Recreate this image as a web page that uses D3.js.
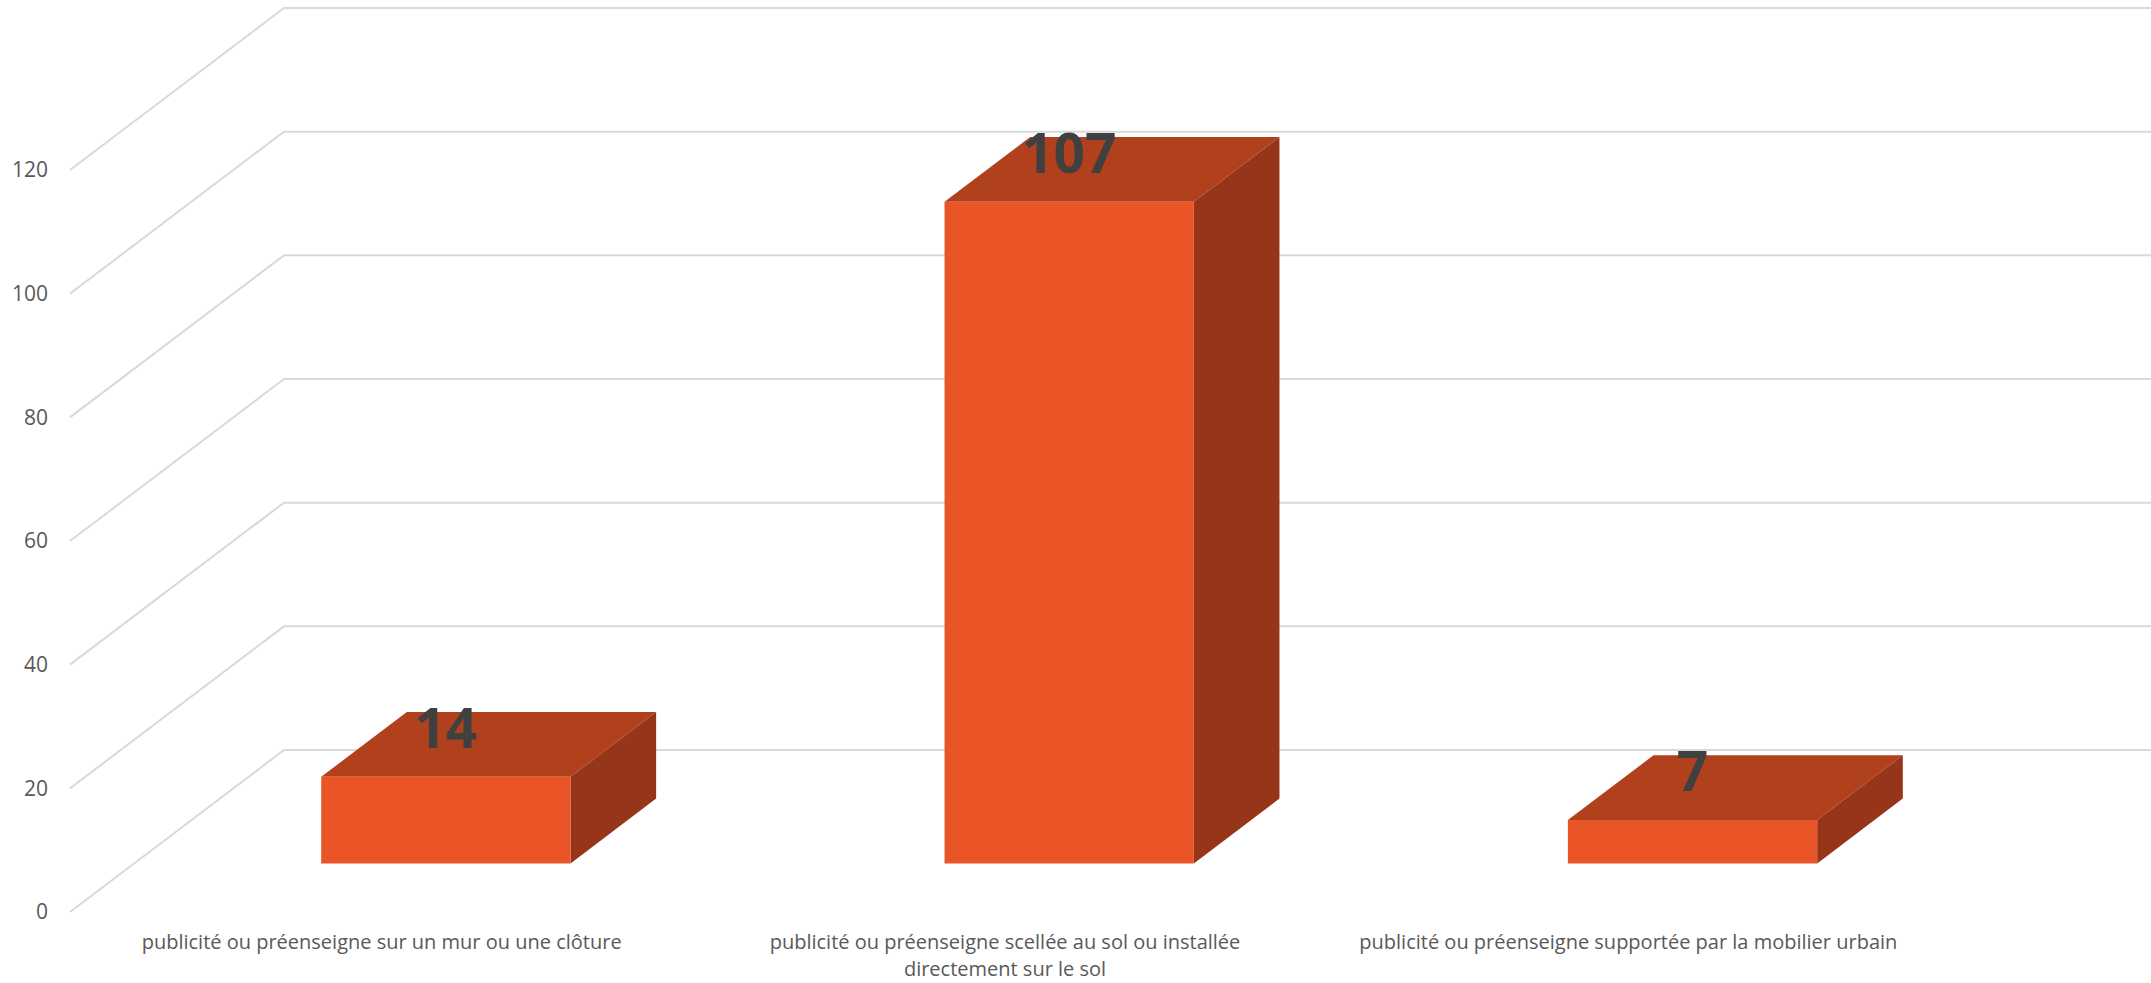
<!DOCTYPE html>
<html>
<head>
<meta charset="utf-8">
<script src="https://cdn.jsdelivr.net/npm/d3@7"></script>
<style>
  html, body { margin: 0; padding: 0; background: #fff; overflow: hidden; }
</style>
</head>
<body>
<svg></svg>
<script>
// Data
const categories = [
    "publicité ou préenseigne sur un mur ou une clôture",
    "publicité ou préenseigne scellée au sol ou installée directement sur le sol",
    "publicité ou préenseigne supportée par la mobilier urbain"
]
const values = [14, 107, 7]
const yTicks = [0, 20, 40, 60, 80, 100, 120]

// Svg size
const width = 2151
const height = 983

const svg = d3.select("svg")
    .attr("width", width)
    .attr("height", height)

// 3d depth offset (floor front -> back wall)
const depth = { x: 214, y: -162 }
const barDepth = [0.3, 0.7]

// Colors
const gridColor = "#d9d9d9"
const frontColor = "#ea5527"
const topColor = "#b1411c"
const sideColor = "#963519"

// Scales (front plane)
const xScale = d3.scaleBand()
    .domain(categories)
    .range([70, 1940])
    .paddingInner(0.6)
    .paddingOuter(0.3)

const yScale = d3.scaleLinear()
    .domain([0, 120])
    .range([912, 170])

const proj = (x, v, f) => [x + f * depth.x, yScale(v) + f * depth.y]

// Gridlines: floor diagonal + back wall line
const grid = svg.append("g")
grid.selectAll("polyline").data(yTicks)
    .enter()
    .append("polyline")
    .attr("points", d => {
        const a = proj(70, d, 0)
        const b = proj(70, d, 1)
        return [a, b, [width + 5, b[1]]].map(p => p.join(",")).join(" ")
    })
    .attr("fill", "none")
    .attr("stroke", gridColor)
    .attr("stroke-width", 2)

// Y axis labels
const yAxis = d3.axisLeft(yScale)
    .tickValues(yTicks)
    .tickSize(0)
    .tickPadding(22)

const yAxisG = svg.append("g")
    .attr("transform", "translate(70,0)")
    .call(yAxis)
yAxisG.select(".domain").remove()
yAxisG.selectAll("text")
    .attr("fill", "#595959")
    .attr("font-family", "Open Sans, sans-serif")
    .attr("font-size", "21px")

// Bars
const bars = svg.append("g")
categories.forEach((c, i) => {
    const v = values[i]
    const x0 = xScale(c)
    const x1 = x0 + xScale.bandwidth()
    const [f0, f1] = barDepth
    const pts = arr => arr.map(p => p.join(",")).join(" ")

    // top face
    bars.append("polygon")
        .attr("points", pts([proj(x0, v, f0), proj(x1, v, f0), proj(x1, v, f1), proj(x0, v, f1)]))
        .attr("fill", topColor)
    // side face
    bars.append("polygon")
        .attr("points", pts([proj(x1, v, f0), proj(x1, v, f1), proj(x1, 0, f1), proj(x1, 0, f0)]))
        .attr("fill", sideColor)
    // front face
    bars.append("polygon")
        .attr("points", pts([proj(x0, v, f0), proj(x1, v, f0), proj(x1, 0, f0), proj(x0, 0, f0)]))
        .attr("fill", frontColor)
})

// Value labels
svg.append("g").selectAll("text").data(categories)
    .enter()
    .append("text")
    .attr("x", c => proj(xScale(c) + xScale.bandwidth() / 2, 0, barDepth[0])[0])
    .attr("y", (c, i) => proj(0, values[i], barDepth[0])[1] - 29)
    .attr("text-anchor", "middle")
    .attr("font-family", "Open Sans, sans-serif")
    .attr("font-weight", "bold")
    .attr("font-size", "55px")
    .attr("fill", "#404040")
    .text((c, i) => values[i])

// Category labels (wrapped)
const wrapWidth = 560
const catG = svg.append("g")
    .attr("font-family", "Open Sans, sans-serif")
    .attr("font-size", "20px")
    .attr("fill", "#595959")
    .attr("text-anchor", "middle")

categories.forEach(c => {
    const cx = xScale(c) + xScale.bandwidth() / 2
    const text = catG.append("text").attr("x", cx).attr("y", 949)
    const words = c.split(" ")
    let line = []
    let tspan = text.append("tspan").attr("x", cx).attr("dy", 0)
    words.forEach(w => {
        line.push(w)
        tspan.text(line.join(" "))
        if (tspan.node().getComputedTextLength() > wrapWidth && line.length > 1) {
            line.pop()
            tspan.text(line.join(" "))
            line = [w]
            tspan = text.append("tspan").attr("x", cx).attr("dy", 27).text(w)
        }
    })
})
</script>
</body>
</html>
